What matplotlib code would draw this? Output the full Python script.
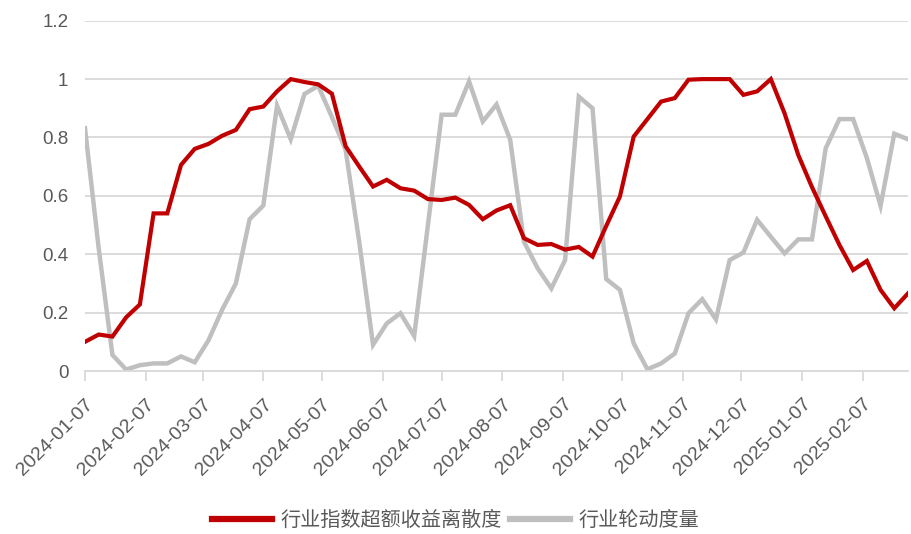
import matplotlib
matplotlib.use("Agg")
import matplotlib.pyplot as plt
import matplotlib.dates as mdates
import matplotlib.transforms as mtransforms
import pandas as pd

plt.rcParams['font.family'] = ['Liberation Sans', 'DejaVu Sans']

# Weekly observations (Sundays), starting 2024-01-07
start_date = "2024-01-07"

dispersion = [
    0.10, 0.125, 0.118, 0.184, 0.228, 0.54, 0.54, 0.706, 0.761, 0.778,
    0.806, 0.826, 0.897, 0.906, 0.958, 1.0, 0.99, 0.982, 0.95, 0.77,
    0.70, 0.632, 0.655, 0.626, 0.618, 0.589, 0.586, 0.594, 0.569, 0.52,
    0.55, 0.568, 0.455, 0.432, 0.435, 0.416, 0.425, 0.392, 0.497, 0.598,
    0.803, 0.863, 0.923, 0.935, 0.998, 1.0, 1.0, 1.0, 0.946, 0.958,
    1.0, 0.883, 0.74, 0.63, 0.53, 0.432, 0.346, 0.377, 0.278, 0.215,
    0.266,
]

rotation = [
    0.832, 0.42, 0.055, 0.005, 0.02, 0.026, 0.026, 0.05, 0.03, 0.105,
    0.21, 0.30, 0.52, 0.567, 0.909, 0.794, 0.949, 0.977, 0.87, 0.758,
    0.44, 0.09, 0.163, 0.198, 0.12, 0.50, 0.878, 0.878, 0.992, 0.855,
    0.913, 0.792, 0.443, 0.352, 0.283, 0.38, 0.94, 0.90, 0.315, 0.278,
    0.095, 0.006, 0.026, 0.06, 0.198, 0.246, 0.177, 0.38, 0.406, 0.518,
    0.46, 0.403, 0.451, 0.451, 0.763, 0.863, 0.863, 0.73, 0.566, 0.813,
    0.794,
]

series_names = ["行业指数超额收益离散度", "行业轮动度量"]
series_colors = ["#C00000", "#BFBFBF"]
y_ticks = [0, 0.2, 0.4, 0.6, 0.8, 1.0, 1.2]
y_tick_labels = ["0", "0.2", "0.4", "0.6", "0.8", "1", "1.2"]

dates = pd.date_range(start_date, periods=len(dispersion), freq="7D")
# Tick on the 7th of every month
month_ticks = pd.date_range("2024-01-01", "2025-02-01", freq="MS") + pd.Timedelta(days=6)

fig = plt.figure(figsize=(9.11, 5.34), dpi=100)
ax = fig.add_axes([0.0933, 0.3052, 0.9034, 0.656])

grid_c = "#D9D9D9"
text_c = "#595959"

ax.plot(dates, dispersion, color=series_colors[0], lw=3.0, label=series_names[0],
        solid_joinstyle="miter", zorder=3)
ax.plot(dates, rotation, color=series_colors[1], lw=3.2, label=series_names[1],
        solid_joinstyle="miter", zorder=2)

ax.set_ylim(0, 1.2)
ax.set_yticks(y_ticks)
ax.set_yticklabels(y_tick_labels)
ax.set_xlim(dates[0], dates[-1])
ax.set_xticks(month_ticks)
ax.xaxis.set_major_formatter(mdates.DateFormatter("%Y-%m-%d"))

ax.grid(axis="y", color=grid_c, lw=1.3)
ax.set_axisbelow(True)
for side in ["top", "right", "left"]:
    ax.spines[side].set_visible(False)
ax.spines["bottom"].set_color(grid_c)
ax.spines["bottom"].set_linewidth(1.3)

ax.tick_params(axis="y", length=0, pad=12, labelsize=13.5, labelcolor=text_c)
ax.tick_params(axis="x", length=7, width=1.3, color=grid_c, pad=15,
               labelsize=14, labelcolor=text_c)
shift = mtransforms.ScaledTranslation(0.06, 0, fig.dpi_scale_trans)
for lbl in ax.get_xticklabels():
    lbl.set_rotation(45)
    lbl.set_ha("right")
    lbl.set_va("center")
    lbl.set_rotation_mode("anchor")
    lbl.set_transform(lbl.get_transform() + shift)

leg = fig.legend(loc="center", bbox_to_anchor=(0.5, 0.025), ncol=2, frameon=False,
                 handlelength=3.0, handletextpad=0.4, columnspacing=0.4,
                 prop={"family": ["Noto Sans CJK SC", "DejaVu Sans"], "size": 14.5})
for t in leg.get_texts():
    t.set_color(text_c)
for h in leg.legend_handles:
    h.set_linewidth(4.5)

fig.savefig("out.png", dpi=100)
